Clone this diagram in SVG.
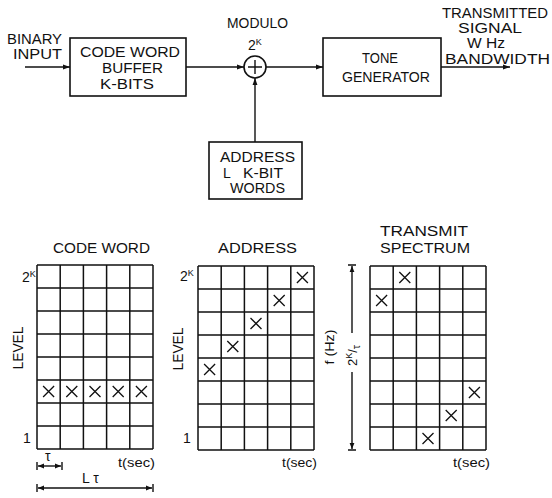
<svg xmlns="http://www.w3.org/2000/svg" xmlns:xlink="http://www.w3.org/1999/xlink" width="552" height="498" viewBox="0 0 552 498">
<defs>
<style>
text{font-family:"Liberation Sans","DejaVu Sans",Arial,sans-serif;fill:#111;font-size:14px}
.box{fill:none;stroke:#111;stroke-width:1.6}
.ln{fill:none;stroke:#111;stroke-width:1.4}
.grid{fill:none;stroke:#111;stroke-width:1.5}
.x{fill:none;stroke:#111;stroke-width:1.3}
.sup{font-size:9px}
.lc{font-size:13px}
</style>
<marker id="ah" viewBox="0 0 10 10" refX="10" refY="5" markerWidth="7" markerHeight="7" markerUnits="userSpaceOnUse" orient="auto">
<path d="M0,1.5 L10,5 L0,8.5 Z" fill="#111"/>
</marker>
<marker id="dh" viewBox="0 0 10 10" refX="10" refY="5" markerWidth="7" markerHeight="6" markerUnits="userSpaceOnUse" orient="auto-start-reverse">
<path d="M0,1 L10,5 L0,9 Z" fill="#111"/>
</marker>
<path id="X" d="M-5.5,-5.5 L5.5,5.5 M5.5,-5.5 L-5.5,5.5" class="x"/>
</defs>
<rect width="552" height="498" fill="#fff"/>

<g id="binary-input">
<text x="7" y="44" textLength="55" lengthAdjust="spacingAndGlyphs">BINARY</text>
<text x="13" y="59" textLength="49" lengthAdjust="spacingAndGlyphs">INPUT</text>
</g>

<g id="code-word-buffer">
<rect class="box" x="70" y="38" width="116" height="58"/>
<text x="80" y="57" textLength="100" lengthAdjust="spacingAndGlyphs">CODE WORD</text>
<text x="102" y="73" textLength="61" lengthAdjust="spacingAndGlyphs">BUFFER</text>
<text x="100" y="89" textLength="54" lengthAdjust="spacingAndGlyphs">K-BITS</text>
</g>

<g id="modulo-adder">
<text x="227" y="28" textLength="61" lengthAdjust="spacingAndGlyphs">MODULO</text>
<text x="248" y="50">2<tspan class="sup" dy="-5">K</tspan></text>
<circle cx="255" cy="67" r="11" class="box"/>
<path class="ln" d="M248,67 H262 M255,60 V74"/>
</g>

<g id="tone-generator">
<rect class="box" x="323" y="38" width="118" height="58"/>
<text x="362" y="63" textLength="36" lengthAdjust="spacingAndGlyphs">TONE</text>
<text x="342" y="82" textLength="88" lengthAdjust="spacingAndGlyphs">GENERATOR</text>
</g>

<g id="transmitted-signal">
<text x="442" y="18" textLength="106" lengthAdjust="spacingAndGlyphs">TRANSMITTED</text>
<text x="458" y="33" font-size="13" textLength="64" lengthAdjust="spacingAndGlyphs">SIGNAL</text>
<text x="467" y="48" font-size="11" textLength="38" lengthAdjust="spacingAndGlyphs">W Hz</text>
<text x="445" y="64" textLength="105" lengthAdjust="spacingAndGlyphs">BANDWIDTH</text>
</g>

<g id="address-words">
<rect class="box" x="209" y="142" width="93" height="57"/>
<text x="220" y="162" textLength="75" lengthAdjust="spacingAndGlyphs">ADDRESS</text>
<text x="223" y="178">L</text>
<text x="243" y="178" textLength="40" lengthAdjust="spacingAndGlyphs">K-BIT</text>
<text x="230" y="193" textLength="55" lengthAdjust="spacingAndGlyphs">WORDS</text>
</g>

<g id="connectors">
<path class="ln" d="M25,67 H70" marker-end="url(#ah)"/>
<path class="ln" d="M186,67 H244" marker-end="url(#ah)"/>
<path class="ln" d="M266,67 H323" marker-end="url(#ah)"/>
<path class="ln" d="M441,67 H510" marker-end="url(#ah)"/>
<path class="ln" d="M255,142 V78" marker-end="url(#ah)"/>
</g>

<g id="code-word-chart">
<text x="53" y="253" textLength="97" lengthAdjust="spacingAndGlyphs">CODE WORD</text>
<path class="grid" d="M37,265 V449 M60.2,265 V449 M83.4,265 V449 M106.6,265 V449 M129.8,265 V449 M153,265 V449 M37,265 H153 M37,288 H153 M37,311 H153 M37,334 H153 M37,357 H153 M37,380 H153 M37,403 H153 M37,426 H153 M37,449 H153"/>
<use xlink:href="#X" x="48.6" y="391.5"/>
<use xlink:href="#X" x="71.8" y="391.5"/>
<use xlink:href="#X" x="95" y="391.5"/>
<use xlink:href="#X" x="118.2" y="391.5"/>
<use xlink:href="#X" x="141.4" y="391.5"/>
<text x="22" y="282">2<tspan class="sup" dy="-5">K</tspan></text>
<text x="23" y="443">1</text>
<text transform="translate(23,348) rotate(-90)" text-anchor="middle" textLength="43" lengthAdjust="spacingAndGlyphs">LEVEL</text>
<text class="lc" x="118" y="467" textLength="37" lengthAdjust="spacingAndGlyphs">t(sec)</text>
<path class="ln" d="M37,462 V470 M62,462 V470"/>
<path class="ln" d="M38,466 H61" marker-start="url(#dh)" marker-end="url(#dh)"/>
<text x="45" y="461" font-size="12">τ</text>
<path class="ln" d="M37,484 V492 M153,484 V492"/>
<path class="ln" d="M38,488 H152" marker-start="url(#dh)" marker-end="url(#dh)"/>
<text x="82" y="483">L τ</text>
</g>

<g id="address-chart">
<text x="218" y="253" textLength="79" lengthAdjust="spacingAndGlyphs">ADDRESS</text>
<path class="grid" d="M198,266 V450 M221.2,266 V450 M244.4,266 V450 M267.6,266 V450 M290.8,266 V450 M314,266 V450 M198,266 H314 M198,289 H314 M198,312 H314 M198,335 H314 M198,358 H314 M198,381 H314 M198,404 H314 M198,427 H314 M198,450 H314"/>
<use xlink:href="#X" x="302.4" y="277.5"/>
<use xlink:href="#X" x="279.2" y="300.5"/>
<use xlink:href="#X" x="256" y="323.5"/>
<use xlink:href="#X" x="232.8" y="346.5"/>
<use xlink:href="#X" x="209.6" y="369.5"/>
<text x="180" y="281">2<tspan class="sup" dy="-5">K</tspan></text>
<text x="183" y="443">1</text>
<text transform="translate(183,349) rotate(-90)" text-anchor="middle" textLength="43" lengthAdjust="spacingAndGlyphs">LEVEL</text>
<text class="lc" x="282" y="467" textLength="35" lengthAdjust="spacingAndGlyphs">t(sec)</text>
</g>

<g id="transmit-spectrum-chart">
<text x="380" y="236" textLength="88" lengthAdjust="spacingAndGlyphs">TRANSMIT</text>
<text x="380" y="253" textLength="90" lengthAdjust="spacingAndGlyphs">SPECTRUM</text>
<path class="grid" d="M370,266 V450 M393.2,266 V450 M416.4,266 V450 M439.6,266 V450 M462.8,266 V450 M486,266 V450 M370,266 H486 M370,289 H486 M370,312 H486 M370,335 H486 M370,358 H486 M370,381 H486 M370,404 H486 M370,427 H486 M370,450 H486"/>
<use xlink:href="#X" x="404.8" y="277.5"/>
<use xlink:href="#X" x="381.6" y="300.5"/>
<use xlink:href="#X" x="474.4" y="392.5"/>
<use xlink:href="#X" x="451.2" y="415.5"/>
<use xlink:href="#X" x="428" y="438.5"/>
<path class="ln" d="M348,265 H356 M348,450 H356"/>
<path class="ln" d="M352,333 V266" marker-end="url(#dh)"/>
<path class="ln" d="M352,372 V449" marker-end="url(#dh)"/>
<text class="lc" transform="translate(334,347) rotate(-90)" text-anchor="middle" textLength="35" lengthAdjust="spacingAndGlyphs">f (Hz)</text>
<text class="lc" transform="translate(357,366) rotate(-90)">2<tspan class="sup" dy="-5">K</tspan><tspan dy="5">/</tspan><tspan dy="3" font-size="11">τ</tspan></text>
<text class="lc" x="453" y="467" textLength="37" lengthAdjust="spacingAndGlyphs">t(sec)</text>
</g>
</svg>
